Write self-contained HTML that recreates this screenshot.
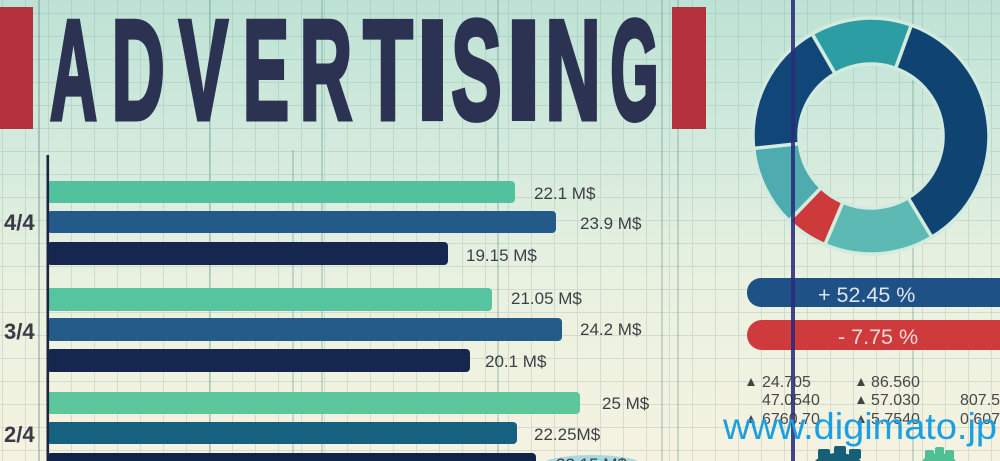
<!DOCTYPE html>
<html><head><meta charset="utf-8"><style>
html,body{margin:0;padding:0;width:1000px;height:461px;overflow:hidden;background:#e6f0e0}
svg{display:block}
</style></head><body>
<svg width="1000" height="461" viewBox="0 0 1000 461" xmlns="http://www.w3.org/2000/svg">
<defs>
<linearGradient id="bg" x1="0" y1="0" x2="0" y2="1">
<stop offset="0" stop-color="#bde2d5"/>
<stop offset="0.3" stop-color="#d2eadd"/>
<stop offset="0.6" stop-color="#e9f1e0"/>
<stop offset="1" stop-color="#f6f2e1"/>
</linearGradient>
<pattern id="grid" patternUnits="userSpaceOnUse" x="2" y="13" width="23" height="23">
<path d="M0 0.5H23M0.5 0V23" stroke="#7fa79c" stroke-opacity="0.28" stroke-width="1" fill="none"/>
</pattern>
</defs>
<rect width="1000" height="461" fill="url(#bg)"/>
<rect width="1000" height="461" fill="url(#grid)"/>
<g stroke="#4f8a80" stroke-opacity="0.45" stroke-width="1.2">
<line x1="39" y1="0" x2="39" y2="461" stroke="#7c9a98" stroke-opacity="0.8"/>
<line x1="210" y1="0" x2="210" y2="461"/>
<line x1="293" y1="150" x2="293" y2="461"/>
<line x1="322" y1="0" x2="322" y2="461"/>
<line x1="498" y1="0" x2="498" y2="461"/>
<line x1="662" y1="0" x2="662" y2="461"/>
<line x1="678" y1="0" x2="678" y2="461"/>
<line x1="913" y1="0" x2="913" y2="461"/>
</g>

<!-- red side bars -->
<rect x="0" y="7" width="33" height="122" fill="#b3313a"/>
<rect x="672" y="7" width="34" height="122" fill="#b3313a"/>

<!-- title -->
<g font-family="Liberation Sans, Arial, sans-serif" font-weight="bold" font-size="142" fill="#2c3352" stroke="#2c3352" stroke-width="4" stroke-linejoin="miter">
<text vector-effect="non-scaling-stroke" transform="translate(50,119) scale(0.458,1)" x="0" y="0">A</text>
<text vector-effect="non-scaling-stroke" transform="translate(117,119) scale(0.518,1)" x="-10.4" y="0">D</text>
<text vector-effect="non-scaling-stroke" transform="translate(179,119) scale(0.517,1)" x="0" y="0">V</text>
<text vector-effect="non-scaling-stroke" transform="translate(248,119) scale(0.486,1)" x="-10.4" y="0">E</text>
<text vector-effect="non-scaling-stroke" transform="translate(305,119) scale(0.511,1)" x="-10.4" y="0">R</text>
<text vector-effect="non-scaling-stroke" transform="translate(365,119) scale(0.571,1)" x="-3.1" y="0">T</text>
<text vector-effect="non-scaling-stroke" transform="translate(424,119) scale(0.846,1)" x="-9.7" y="0">I</text>
<text vector-effect="non-scaling-stroke" transform="translate(454,119) scale(0.532,1)" x="-5.1" y="0">S</text>
<text vector-effect="non-scaling-stroke" transform="translate(514,119) scale(0.945,1)" x="-9.7" y="0">I</text>
<text vector-effect="non-scaling-stroke" transform="translate(551,119) scale(0.539,1)" x="-10.4" y="0">N</text>
<text vector-effect="non-scaling-stroke" transform="translate(613,119) scale(0.4375,1)" x="-6.1" y="0">G</text>
</g>

<!-- bar chart -->
<g>
<rect x="47" y="181" width="468" height="22" rx="4" fill="#52c19e"/>
<rect x="47" y="211" width="509" height="22" rx="4" fill="#235a8a"/>
<rect x="47" y="242" width="401" height="23" rx="4" fill="#15264f"/>
<rect x="47" y="288" width="445" height="23" rx="4" fill="#56c49f"/>
<rect x="47" y="318" width="515" height="23" rx="4" fill="#245c89"/>
<rect x="47" y="349" width="423" height="23" rx="4" fill="#15264f"/>
<rect x="47" y="392" width="533" height="22" rx="4" fill="#5cc79c"/>
<rect x="47" y="422" width="470" height="22" rx="4" fill="#15617f"/>
<rect x="47" y="453" width="489" height="20" rx="4" fill="#0f2446"/>
</g>
<rect x="46.5" y="155" width="2.6" height="306" fill="#1b2340"/>
<ellipse cx="592" cy="466" rx="52" ry="11" fill="#a6dadf"/>
<g font-family="Liberation Sans, Arial, sans-serif" font-size="17" fill="#3d3f47">
<text x="534" y="199">22.1 M$</text>
<text x="580" y="229">23.9 M$</text>
<text x="466" y="261">19.15 M$</text>
<text x="511" y="304">21.05 M$</text>
<text x="580" y="335">24.2 M$</text>
<text x="485" y="367">20.1 M$</text>
<text x="602" y="409">25 M$</text>
<text x="534" y="440">22.25M$</text>
<text x="556" y="470">22.15 M$</text>
</g>
<g font-family="Liberation Sans, Arial, sans-serif" font-size="22" font-weight="bold" fill="#3a3b46">
<text x="4" y="230">4/4</text>
<text x="4" y="339">3/4</text>
<text x="4" y="442">2/4</text>
</g>

<!-- donut -->
<g stroke="#d3ebdf" stroke-width="3.5" stroke-linejoin="miter">
<path d="M812,33.81 A118,118 0 0 1 911.36,25.12 L895.62,68.34 A72,72 0 0 0 835,73.65 Z" fill="#2c9ea3"/>
<path d="M911.36,25.12 A118,118 0 0 1 931.77,237.15 L908.08,197.72 A72,72 0 0 0 895.62,68.34 Z" fill="#0f4472"/>
<path d="M931.77,237.15 A118,118 0 0 1 824.9,244.62 L842.87,202.28 A72,72 0 0 0 908.08,197.72 Z" fill="#5cb9b3"/>
<path d="M824.9,244.62 A118,118 0 0 1 789.03,220.88 L820.98,187.79 A72,72 0 0 0 842.87,202.28 Z" fill="#cc3a3c"/>
<path d="M789.03,220.88 A118,118 0 0 1 753.65,148.33 L799.39,143.52 A72,72 0 0 0 820.98,187.79 Z" fill="#4eabb0"/>
<path d="M753.65,148.33 A118,118 0 0 1 812,33.81 L835,73.65 A72,72 0 0 0 799.39,143.52 Z" fill="#114678"/>
</g>

<!-- pills -->
<rect x="747" y="278" width="270" height="29" rx="14" fill="#1e5186"/>
<rect x="747" y="320" width="270" height="30" rx="15" fill="#cf3b3d"/>
<g font-family="Liberation Sans, Arial, sans-serif" font-size="21.5">
<text x="818" y="302" fill="#dde7ee">+ 52.45 %</text>
<text x="838" y="344" fill="#f3dcd8">- 7.75 %</text>
</g>

<!-- small numbers -->
<g fill="#444">
<polygon points="747,386 755,386 751,378"/>
<polygon points="857,386 865,386 861,378"/>
<polygon points="857,404 865,404 861,396"/>
<polygon points="747,423 755,423 751,415"/>
<polygon points="857,423 865,423 861,415"/>
</g>
<g font-family="Liberation Sans, Arial, sans-serif" font-size="16" fill="#474747">
<text x="762" y="387">24.705</text>
<text x="871" y="387">86.560</text>
<text x="762" y="405">47.0540</text>
<text x="871" y="405">57.030</text>
<text x="960" y="405">807.5</text>
<text x="762" y="424">6760.70</text>
<text x="871" y="424">5.7540</text>
<text x="960" y="424">0.607</text>
</g>

<!-- gears -->
<g fill="#155f79">
<ellipse cx="838" cy="468" rx="26" ry="15"/>
<rect x="818" y="449" width="12" height="10" rx="2"/>
<rect x="834" y="446" width="12" height="10" rx="2"/>
<rect x="849" y="449" width="12" height="10" rx="2"/>
</g>
<g fill="#4fbf95">
<ellipse cx="939" cy="468" rx="19" ry="15"/>
<rect x="925" y="450" width="9" height="9" rx="2"/>
<rect x="935" y="447" width="9" height="9" rx="2"/>
<rect x="945" y="450" width="9" height="9" rx="2"/>
</g>

<!-- navy vertical line -->
<rect x="791" y="0" width="4" height="461" fill="#2c2a7a" fill-opacity="0.88"/>

<!-- watermark -->
<text x="723" y="439" font-family="Liberation Sans, Arial, sans-serif" font-size="37.5" fill="#1b9fe0" textLength="274" lengthAdjust="spacingAndGlyphs">www.digimato.jp</text>
</svg>
</body></html>
